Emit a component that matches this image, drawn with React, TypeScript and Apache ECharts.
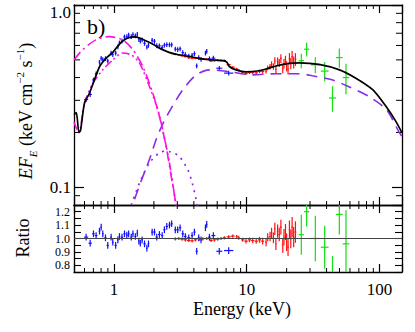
import React, { useEffect, useRef } from "react";
import * as echarts from "echarts";

const FONT = "'Liberation Serif', 'DejaVu Serif', serif";

// Total model (black)
const modelEnergy = [0.5, 0.52, 0.545, 0.56, 0.6, 0.65, 0.7, 0.78, 0.87, 0.98, 1.1, 1.2, 1.3, 1.45, 1.6, 1.75, 2.0, 2.2, 2.6, 3.0, 3.7, 4.4, 5.2, 6.0, 6.8, 7.1, 7.4, 8.3, 9.9, 12.4, 14.5, 16.6, 21, 25, 35, 50, 66, 89, 112, 133, 148];
const modelFlux = [0.25, 0.257, 0.2, 0.205, 0.29, 0.325, 0.375, 0.46, 0.51, 0.55, 0.61, 0.645, 0.662, 0.668, 0.655, 0.635, 0.605, 0.58, 0.55, 0.535, 0.522, 0.51, 0.502, 0.498, 0.494, 0.485, 0.46, 0.441, 0.43, 0.436, 0.449, 0.463, 0.478, 0.482, 0.472, 0.441, 0.398, 0.343, 0.278, 0.23, 0.199];

// Soft component 1 (magenta dash-dot)
const comp1Energy = [0.5, 0.58, 0.73, 0.925, 1.16, 1.39, 1.65, 1.96, 2.2, 2.47, 2.7, 2.94];
const comp1Flux = [0.5, 0.568, 0.644, 0.671, 0.644, 0.568, 0.46, 0.329, 0.245, 0.168, 0.115, 0.08];

// Soft component 2 (magenta dash-dot-dot)
const comp2Energy = [0.5, 0.545, 0.56, 0.6, 0.69, 0.824, 0.98, 1.16, 1.35, 1.56, 1.85, 2.14, 2.33, 2.6, 2.8, 2.95];
const comp2Flux = [0.228, 0.2, 0.212, 0.29, 0.37, 0.441, 0.5, 0.545, 0.533, 0.48, 0.358, 0.267, 0.207, 0.14, 0.1, 0.078];

// Gaussian-like component (purple dotted)
const gaussEnergy = [1.35, 1.56, 1.85, 2.2, 2.45, 2.62, 2.9, 3.11, 3.6, 3.9, 4.16, 4.27];
const gaussFlux = [0.08, 0.106, 0.136, 0.155, 0.158, 0.157, 0.153, 0.148, 0.125, 0.105, 0.086, 0.079];

// Comptonised continuum (purple dashed)
const powEnergy = [1.43, 1.6, 1.85, 2.08, 2.32, 2.62, 3.3, 4.16, 5.24, 7.8, 11, 16.7, 24.9, 31.2, 44, 59, 84, 113, 141, 148];
const powFlux = [0.086, 0.108, 0.142, 0.183, 0.221, 0.261, 0.343, 0.414, 0.441, 0.428, 0.414, 0.42, 0.42, 0.409, 0.389, 0.356, 0.314, 0.267, 0.2, 0.19];

// Blue data
const blueEnergy = [0.617, 0.662, 0.701, 0.734, 0.778, 0.801, 0.824, 0.863, 0.898, 0.952, 0.98, 1.03, 1.07, 1.10, 1.15, 1.20, 1.25, 1.29, 1.35, 1.39, 1.45, 1.50, 1.54, 1.58, 1.63, 1.70, 1.77, 1.82, 1.94, 2.02, 2.10, 2.20, 2.31, 2.40, 2.50, 2.62, 2.72, 2.90, 3.02, 3.15, 3.30, 3.45, 3.66, 3.88, 4.04, 4.20, 4.35, 4.53, 4.89, 5.00, 5.24, 5.61, 6.22, 7.32];
const blueFlux = [0.303, 0.323, 0.388, 0.419, 0.485, 0.51, 0.502, 0.508, 0.493, 0.545, 0.535, 0.545, 0.589, 0.619, 0.634, 0.668, 0.670, 0.683, 0.671, 0.689, 0.678, 0.691, 0.647, 0.634, 0.644, 0.616, 0.587, 0.601, 0.641, 0.632, 0.598, 0.597, 0.585, 0.602, 0.607, 0.605, 0.605, 0.573, 0.570, 0.575, 0.548, 0.534, 0.525, 0.530, 0.541, 0.464, 0.514, 0.504, 0.545, 0.557, 0.507, 0.511, 0.450, 0.423];
const blueRatio = [1.01, 0.965, 1.035, 1.022, 1.055, 1.085, 1.035, 1.005, 0.948, 1.01, 0.972, 0.948, 0.99, 1.015, 1.01, 1.035, 1.025, 1.035, 1.01, 1.035, 1.015, 1.04, 0.98, 0.965, 0.99, 0.96, 0.928, 0.96, 1.048, 1.048, 1.01, 1.03, 1.022, 1.065, 1.09, 1.10, 1.11, 1.065, 1.065, 1.08, 1.035, 1.015, 1.005, 1.022, 1.048, 0.905, 1.005, 0.99, 1.08, 1.105, 1.01, 1.022, 0.905, 0.91];
const blueErr = 0.03;
const blueRatioErr = 0.025;

// Red data
const redEnergy = [2.90, 3.08, 3.26, 3.45, 3.66, 3.88, 4.11, 4.40, 4.67, 5.00, 5.39, 5.71, 6.05, 6.41, 6.79, 7.32, 7.85, 8.41, 8.71, 9.33, 9.89, 10.5, 11.1, 11.8, 12.5, 13.2, 14.0, 14.4, 15.0, 15.4, 15.9, 16.3, 16.6, 17.1, 17.6, 18.1, 18.7, 19.1, 19.6, 20.0, 20.5, 21.0, 21.5, 22.0, 22.6, 23.3];
const redFlux = [0.537, 0.533, 0.527, 0.521, 0.514, 0.510, 0.510, 0.508, 0.506, 0.504, 0.493, 0.495, 0.496, 0.496, 0.496, 0.471, 0.456, 0.447, 0.439, 0.428, 0.421, 0.426, 0.426, 0.425, 0.433, 0.432, 0.434, 0.452, 0.459, 0.472, 0.460, 0.494, 0.444, 0.491, 0.481, 0.509, 0.447, 0.477, 0.497, 0.462, 0.445, 0.509, 0.478, 0.521, 0.485, 0.504];
const redRatio = [0.998, 1.0, 0.995, 0.99, 0.985, 0.983, 0.99, 0.995, 0.998, 1.0, 0.985, 0.99, 0.995, 1.0, 1.005, 1.012, 1.018, 1.015, 1.005, 0.99, 0.98, 0.99, 0.985, 0.98, 0.99, 0.98, 0.972, 1.01, 1.015, 1.04, 1.005, 1.072, 0.96, 1.055, 1.03, 1.085, 0.948, 1.01, 1.048, 0.972, 0.935, 1.065, 0.998, 1.085, 1.01, 1.048];
const redErr = [0.012, 0.012, 0.012, 0.012, 0.012, 0.012, 0.012, 0.012, 0.012, 0.012, 0.012, 0.012, 0.012, 0.012, 0.012, 0.012, 0.012, 0.012, 0.015, 0.015, 0.018, 0.018, 0.02, 0.02, 0.022, 0.025, 0.03, 0.03, 0.035, 0.04, 0.04, 0.045, 0.045, 0.05, 0.05, 0.055, 0.055, 0.06, 0.06, 0.065, 0.065, 0.07, 0.07, 0.075, 0.075, 0.08];

// Green data
const greenEnergy = [25.8, 28.3, 32.9, 38.7, 44.3, 49.9, 56.0];
const greenFlux = [0.495, 0.572, 0.470, 0.434, 0.309, 0.515, 0.400];
const greenFluxErr = [0.09, 0.087, 0.10, 0.12, 0.16, 0.12, 0.19];
const greenRatio = [1.028, 1.2, 1.0, 0.935, 0.68, 1.18, 0.96];
const greenRatioErr = [0.15, 0.11, 0.17, 0.16, 0.19, 0.15, 0.25];

// Axis minor tick values
const xMinorTicks = [0.6, 0.7, 0.8, 0.9, 2, 3, 4, 5, 6, 7, 8, 9, 20, 30, 40, 50, 60, 70, 80, 90];
const yMinorTicks = [0.09, 0.2, 0.3, 0.4, 0.5, 0.6, 0.7, 0.8, 0.9];

const X_MIN = 0.5;
const X_MAX = 148;

const pairs = (xs: number[], ys: number[]) => xs.map((x, i) => [x, ys[i]]);

function errorBars(
  E: number[], Y: number[], lo: number[], hi: number[],
  color: string, xi: number, yi: number, extra: any = {}
) {
  const logs = E.map((e) => Math.log10(e));
  const data = E.map((e, i) => {
    const gp = i > 0 ? logs[i] - logs[i - 1] : Infinity;
    const gn = i < E.length - 1 ? logs[i + 1] - logs[i] : Infinity;
    let hw = Math.min(gp, gn) / 2;
    if (!isFinite(hw)) hw = 0.02;
    hw = Math.min(hw, 0.035);
    return [e, Y[i], Math.pow(10, logs[i] - hw), Math.pow(10, logs[i] + hw), lo[i], hi[i]];
  });
  return {
    type: "custom",
    xAxisIndex: xi,
    yAxisIndex: yi,
    clip: true,
    silent: true,
    data,
    encode: { x: 0, y: 1 },
    renderItem: (params: any, api: any) => {
      const c = api.coord([api.value(0), api.value(1)]);
      const l = api.coord([api.value(2), api.value(1)]);
      const r = api.coord([api.value(3), api.value(1)]);
      const t = api.coord([api.value(0), api.value(5)]);
      const b = api.coord([api.value(0), api.value(4)]);
      return {
        type: "group",
        children: [
          { type: "line", shape: { x1: l[0], y1: c[1], x2: r[0], y2: c[1] }, style: { stroke: color, lineWidth: 1.2 } },
          { type: "line", shape: { x1: c[0], y1: t[1], x2: c[0], y2: b[1] }, style: { stroke: color, lineWidth: 1.2 } },
        ],
      };
    },
    ...extra,
  };
}

function minorX(values: number[], yRef: number, xi: number, yi: number, len: number) {
  return {
    type: "custom",
    xAxisIndex: xi,
    yAxisIndex: yi,
    silent: true,
    data: values.map((v) => [v, yRef]),
    encode: { x: 0, y: 1 },
    renderItem: (params: any, api: any) => {
      const cs = params.coordSys;
      const p = api.coord([api.value(0), yRef]);
      return {
        type: "group",
        children: [
          { type: "line", shape: { x1: p[0], y1: cs.y, x2: p[0], y2: cs.y + len }, style: { stroke: "#000", lineWidth: 1 } },
          { type: "line", shape: { x1: p[0], y1: cs.y + cs.height, x2: p[0], y2: cs.y + cs.height - len }, style: { stroke: "#000", lineWidth: 1 } },
        ],
      };
    },
  };
}

function minorY(values: number[], xRef: number, xi: number, yi: number, len: number) {
  return {
    type: "custom",
    xAxisIndex: xi,
    yAxisIndex: yi,
    silent: true,
    data: values.map((v) => [xRef, v]),
    encode: { x: 0, y: 1 },
    renderItem: (params: any, api: any) => {
      const cs = params.coordSys;
      const p = api.coord([xRef, api.value(1)]);
      return {
        type: "group",
        children: [
          { type: "line", shape: { x1: cs.x, y1: p[1], x2: cs.x + len, y2: p[1] }, style: { stroke: "#000", lineWidth: 1 } },
          { type: "line", shape: { x1: cs.x + cs.width, y1: p[1], x2: cs.x + cs.width - len, y2: p[1] }, style: { stroke: "#000", lineWidth: 1 } },
        ],
      };
    },
  };
}

const axisLineStyle = { show: true, onZero: false, lineStyle: { color: "#000", width: 1.3 } };

function logX(grid: number, pos: string, labels: boolean) {
  return {
    gridIndex: grid,
    type: "log",
    logBase: 10,
    min: X_MIN,
    max: X_MAX,
    position: pos,
    axisLine: axisLineStyle,
    axisTick: { show: true, inside: true, length: 8, lineStyle: { color: "#000", width: 1.2 } },
    splitLine: { show: false },
    axisLabel: labels
      ? {
          show: true,
          margin: 9,
          fontFamily: FONT,
          fontSize: 17,
          color: "#000",
          formatter: (v: number) => {
            if (Math.abs(v - 1) < 1e-6) return "1";
            if (Math.abs(v - 10) < 1e-5) return "10";
            if (Math.abs(v - 100) < 1e-4) return "100";
            return "";
          },
        }
      : { show: false },
  };
}

export default function App() {
  const ref = useRef<HTMLDivElement>(null);

  useEffect(() => {
    if (!ref.current) return;
    const chart = echarts.init(ref.current, undefined, { renderer: "svg" });

    const blueLo = blueFlux.map((f) => f * (1 - blueErr));
    const blueHi = blueFlux.map((f) => f * (1 + blueErr));
    const blueRLo = blueRatio.map((r) => r - blueRatioErr);
    const blueRHi = blueRatio.map((r) => r + blueRatioErr);
    const redLo = redFlux.map((f, i) => f * (1 - redErr[i]));
    const redHi = redFlux.map((f, i) => f * (1 + redErr[i]));
    const redRLo = redRatio.map((r, i) => r - redErr[i]);
    const redRHi = redRatio.map((r, i) => r + redErr[i]);
    const greenLo = greenFlux.map((f, i) => f * (1 - greenFluxErr[i]));
    const greenHi = greenFlux.map((f, i) => f * (1 + greenFluxErr[i]));
    const greenRLo = greenRatio.map((r, i) => r - greenRatioErr[i]);
    const greenRHi = greenRatio.map((r, i) => r + greenRatioErr[i]);

    const lineSeries = (name: string, xs: number[], ys: number[], color: string, type: any, width: number) => ({
      name,
      type: "line",
      xAxisIndex: 0,
      yAxisIndex: 0,
      data: pairs(xs, ys),
      showSymbol: false,
      symbol: "none",
      smooth: 0.25,
      clip: true,
      silent: true,
      lineStyle: { color, type, width },
    });

    const option: any = {
      animation: false,
      backgroundColor: "#fff",
      textStyle: { fontFamily: FONT },
      grid: [
        { left: 74, top: 5, width: 328, height: 200 },
        { left: 74, top: 205, width: 328, height: 67 },
      ],
      xAxis: [logX(0, "bottom", false), logX(0, "top", false), logX(1, "bottom", true), logX(1, "top", false)],
      yAxis: [
        {
          gridIndex: 0,
          type: "log",
          logBase: 10,
          min: 0.08,
          max: 1,
          position: "left",
          axisLine: axisLineStyle,
          axisTick: { show: true, inside: true, length: 10, lineStyle: { color: "#000", width: 1.2 } },
          splitLine: { show: false },
          axisLabel: {
            show: true,
            margin: 3,
            fontFamily: FONT,
            fontSize: 17,
            color: "#000",
            formatter: (v: number) => {
              if (Math.abs(v - 1) < 1e-6) return "{t|1.0}";
              if (Math.abs(v - 0.1) < 1e-7) return "0.1";
              return "";
            },
            rich: { t: { fontFamily: FONT, fontSize: 17, color: "#000", padding: [14, 0, 0, 0] } },
          },
        },
        {
          gridIndex: 0,
          type: "log",
          logBase: 10,
          min: 0.08,
          max: 1,
          position: "right",
          axisLine: axisLineStyle,
          axisTick: { show: true, inside: true, length: 10, lineStyle: { color: "#000", width: 1.2 } },
          splitLine: { show: false },
          axisLabel: { show: false },
        },
        {
          gridIndex: 1,
          type: "value",
          min: 0.75,
          max: 1.25,
          interval: 0.05,
          position: "left",
          axisLine: axisLineStyle,
          axisTick: { show: true, inside: true, length: 7, lineStyle: { color: "#000", width: 1.1 } },
          splitLine: { show: false },
          axisLabel: {
            show: true,
            margin: 4,
            fontFamily: FONT,
            fontSize: 12,
            lineHeight: 11,
            color: "#000",
            showMinLabel: true,
            showMaxLabel: true,
            hideOverlap: false,
            formatter: (v: number) => {
              const k = Math.round(v * 100);
              return k % 10 === 0 ? (k / 100).toFixed(1) : "";
            },
          },
        },
        {
          gridIndex: 1,
          type: "value",
          min: 0.75,
          max: 1.25,
          interval: 0.05,
          position: "right",
          axisLine: axisLineStyle,
          axisTick: { show: true, inside: true, length: 7, lineStyle: { color: "#000", width: 1.1 } },
          splitLine: { show: false },
          axisLabel: { show: false },
        },
      ],
      series: [
        minorX(xMinorTicks, 0.5, 0, 0, 4),
        minorX(xMinorTicks, 1, 2, 2, 4),
        minorY(yMinorTicks, 1, 0, 0, 6),
        errorBars(blueEnergy, blueFlux, blueLo, blueHi, "#1010ff", 0, 0),
        errorBars(redEnergy, redFlux, redLo, redHi, "#ff1010", 0, 0),
        errorBars(greenEnergy, greenFlux, greenLo, greenHi, "#10e010", 0, 0),
        lineSeries("comptonised", powEnergy, powFlux, "#8b2be8", [11, 7], 1.6),
        lineSeries("gaussian", gaussEnergy, gaussFlux, "#8b2be8", [2, 5], 1.7),
        lineSeries("soft1", comp1Energy, comp1Flux, "#ff10e0", [10, 4, 2, 4], 1.6),
        lineSeries("soft2", comp2Energy, comp2Flux, "#ff10e0", [8, 3, 2, 3, 2, 3], 1.6),
        lineSeries("model", modelEnergy, modelFlux, "#000", "solid", 1.7),
        errorBars(blueEnergy, blueRatio, blueRLo, blueRHi, "#1010ff", 2, 2, {
          markLine: {
            silent: true,
            symbol: "none",
            label: { show: false },
            lineStyle: { color: "#444", width: 1, type: "solid" },
            data: [{ yAxis: 1 }],
          },
        }),
        errorBars(redEnergy, redRatio, redRLo, redRHi, "#ff1010", 2, 2),
        errorBars(greenEnergy, greenRatio, greenRLo, greenRHi, "#10e010", 2, 2),
      ],
      graphic: [
        {
          type: "text",
          x: 87,
          y: 26,
          silent: true,
          style: { text: "b)", fontFamily: FONT, fontSize: 22, fill: "#000", align: "left", verticalAlign: "middle" },
        },
        {
          type: "text",
          x: 26,
          y: 111,
          rotation: Math.PI / 2,
          silent: true,
          style: {
            text: "{it|EF}{sub|E}{n| (keV cm}{sup|\u22122}{n| s}{sup|\u22121}{n|)}",
            align: "center",
            verticalAlign: "middle",
            fill: "#000",
            fontFamily: FONT,
            rich: {
              it: { fontFamily: FONT, fontStyle: "italic", fontSize: 18, lineHeight: 24, fill: "#000" },
              sub: { fontFamily: FONT, fontStyle: "italic", fontSize: 11, lineHeight: 11, verticalAlign: "bottom", fill: "#000" },
              sup: { fontFamily: FONT, fontSize: 11, lineHeight: 11, verticalAlign: "top", fill: "#000" },
              n: { fontFamily: FONT, fontSize: 18, lineHeight: 24, fill: "#000" },
            },
          },
        },
        {
          type: "text",
          x: 23,
          y: 238,
          rotation: Math.PI / 2,
          silent: true,
          style: { text: "Ratio", fontFamily: FONT, fontSize: 18, fill: "#000", align: "center", verticalAlign: "middle" },
        },
        {
          type: "text",
          x: 242,
          y: 309,
          silent: true,
          style: { text: "Energy (keV)", fontFamily: FONT, fontSize: 18, fill: "#000", align: "center", verticalAlign: "middle" },
        },
      ],
    };

    chart.setOption(option);
    return () => chart.dispose();
  }, []);

  return (
    <div
      ref={ref}
      style={{ position: "fixed", left: 0, top: 0, width: 415, height: 332, background: "#fff" }}
    />
  );
}
